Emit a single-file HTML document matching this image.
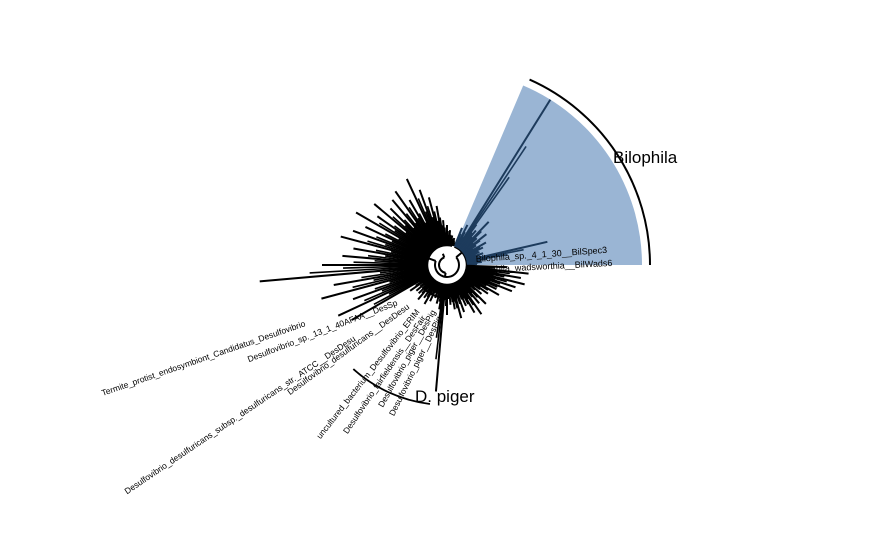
<!DOCTYPE html>
<html><head><meta charset="utf-8"><style>
html,body{margin:0;padding:0;background:#fff;}
svg{display:block;font-family:"Liberation Sans",sans-serif;}
</style></head><body>
<svg id="chart" width="875" height="540" viewBox="0 0 875 540">
<rect width="875" height="540" fill="#fff"/>
<g id="hl"></g><g id="tree"></g><g id="labels"></g>
</svg>
<script>
// tip angles (degrees, screen coords, clockwise from east) and tip radii (branch end distance)
const tipAngles = [-68,-63,-58,-54,-50,-46,-42,-38,-34,-30,-26,-22,-18,-13,-9,-5,-2,2,6,10,14,18,22,26,30,35,40,45,50,55,60,65,70,75,80,85,90,95,100,105,110,115,120,125,130,135,140,145,150,155,160,165,170,175,180,185,190,195,200,205,210,215,220,225,230,235,240,245,250,255,260,265,270,275,280,285];
const tipLengths = [40,45,195,50,45,60,40,50,35,45,40,35,38,103,40,35,30,60,82,75,80,72,70,55,60,50,45,55,50,60,55,45,50,55,45,40,50,127,45,40,35,40,45,40,45,40,40,45,110,120,100,130,115,188,125,105,95,110,100,90,105,85,95,80,85,90,75,95,80,70,60,45,40,35,30,28];
const cx=447, cy=265, inner=20;
const NS='http://www.w3.org/2000/svg';
function pt(r,a){const t=a*Math.PI/180;return [cx+r*Math.cos(t),cy+r*Math.sin(t)];}
function arc(r,a0,a1){const p0=pt(r,a0),p1=pt(r,a1);const lg=(a1-a0)>180?1:0;return `M${p0[0]},${p0[1]} A${r},${r} 0 ${lg} 1 ${p1[0]},${p1[1]}`;}
const hl=document.getElementById('hl');
const w=document.createElementNS(NS,'path');
const a=pt(195,-67),b=pt(195,0),c=pt(22,0),d=pt(22,-67);
w.setAttribute('d',`M${d[0]},${d[1]} L${a[0]},${a[1]} A195,195 0 0 1 ${b[0]},${b[1]} L${c[0]},${c[1]} A22,22 0 0 0 ${d[0]},${d[1]}Z`);
w.setAttribute('fill','#9ab5d4');


hl.appendChild(w);
const tree=document.getElementById('tree');
function line(d,col,sw,name){const p=document.createElementNS(NS,'path');p.setAttribute('d',d);p.setAttribute('stroke',col);p.setAttribute('stroke-width',sw);p.setAttribute('fill','none');


tree.appendChild(p);}
line(arc(inner,-68,285),'#000',2.5,'root-arc');
line(arc(inner+4,40,160),'#000',2,'clade-arc');
line(arc(inner+9,70,145),'#000',2,'clade-arc');
line(arc(inner+13,85,135),'#000',2,'clade-arc');
line(arc(12,-40,200),'#000',2,'internal-arc');
line(arc(8,100,250),'#000',2,'internal-arc');
[[-40,12,20],[200,12,20],[100,8,12],[250,8,12],[40,20,24],[160,20,24],[70,24,29],[145,24,29]].forEach(s=>{
  const p0=pt(s[1],s[0]),p1=pt(s[2],s[0]);
  line(`M${p0[0]},${p0[1]} L${p1[0]},${p1[1]}`,'#000',2,'internal-branch');
});
line(arc(inner+3,-68,0),'#1d3b5c',2,'bilophila-arc');
tipAngles.forEach((ang,i)=>{
  const r=tipLengths[i]; const p0=pt(inner,ang), p1=pt(r,ang);
  const col=(ang<0)?'#1d3b5c':'#000';
  line(`M${p0[0]},${p0[1]} L${p1[0]},${p1[1]}`,col,2,'branch');
  const p2=pt(inner+(r-inner)*0.7,ang+1.7);const p3=pt(inner,ang+1.7);
  line(`M${p3[0]},${p3[1]} L${p2[0]},${p2[1]}`,col,1.6,'branch');
  const p4=pt(inner+(r-inner)*0.5,ang+3.3);const p5=pt(inner,ang+3.3);
  line(`M${p5[0]},${p5[1]} L${p4[0]},${p4[1]}`,col,1.6,'branch');
});
line(arc(203,-66,0),'#000',2,'bilophila-clade-bar');
line(arc(140,97,132),'#000',1.8,'dpiger-clade-bar');
const L=document.getElementById('labels');
function txt(x,y,s,sz,rot,anchor,name){const t=document.createElementNS(NS,'text');t.setAttribute('x',x);t.setAttribute('y',y);t.setAttribute('font-size',sz);t.setAttribute('text-anchor',anchor);
if(rot)t.setAttribute('transform',`rotate(${rot} ${x} ${y})`);t.textContent=s;


L.appendChild(t);}
txt(613,163,'Bilophila',17,0,'start','bilophila-clade-label');
txt(415,402,'D. piger',17,0,'start','dpiger-clade-label');
txt(476,262,'Bilophila_sp._4_1_30__BilSpec3',9,-4,'start','tip-label');
txt(476,273,'Bilophila_wadsworthia__BilWads6',9,-3,'start','tip-label');
txt(306,326,'Termite_protist_endosymbiont_Candidatus_Desulfovibrio',8.5,-19,'end','tip-label');
txt(398,305,'Desulfovibrio_sp._13_1_40AFAA__DesSp',8.5,-21,'end','tip-label');
txt(356,340,'Desulfovibrio_desulfuricans_subsp._desulfuricans_str._ATCC__DesDesu',8.5,-34,'end','tip-label');
txt(410,308,'Desulfovibrio_desulfuricans__DesDesu',8.5,-36,'end','tip-label');
txt(420,312,'uncultured_bacterium_Desulfovibrio_ERIM',8.5,-52,'end','tip-label');
txt(426,318,'Desulfovibrio_fairfieldensis__DesFair',8.5,-56,'end','tip-label');
txt(436,312,'Desulfovibrio_piger__DesPig',8.5,-61,'end','tip-label');
txt(442,318,'Desulfovibrio_piger__DesPig',8.5,-64,'end','tip-label');
</script>
</body></html>
